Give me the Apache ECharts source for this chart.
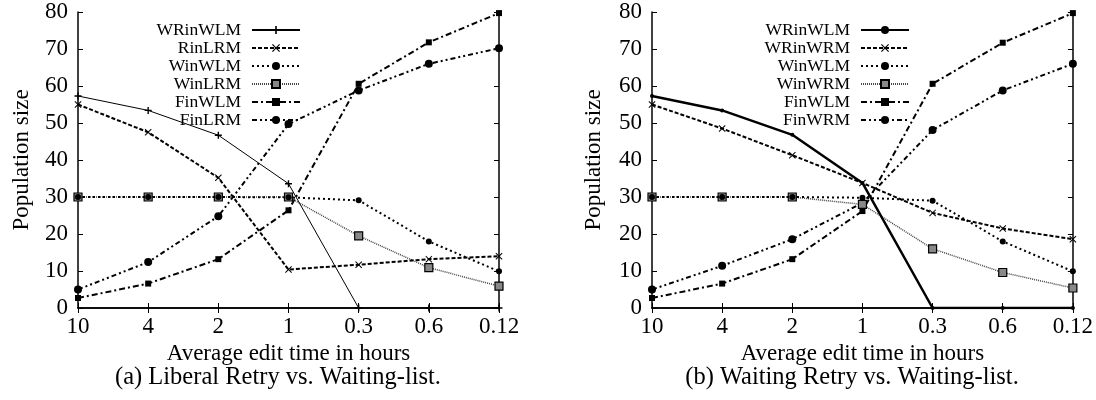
<!DOCTYPE html>
<html>
<head>
<meta charset="utf-8">
<script src="https://cdn.jsdelivr.net/npm/echarts@6/dist/echarts.min.js"></script>
<style>
	html, body { margin: 0; padding: 0; background: #fff; }
	#chart { width: 1096px; height: 400px; }
</style>
</head>
<body>
<div id="chart"></div>
<script>
// x categories (average edit time in hours)
const hours = ['10', '4', '2', '1', '0.3', '0.6', '0.12']

// (a) Liberal Retry vs. Waiting-list
const aNames = ['WRinWLM', 'RinLRM', 'WinWLM', 'WinLRM', 'FinWLM', 'FinLRM']
const aWRinWLM = [57.3, 53.4, 46.7, 33.6, 0, 0, 0]
const aRinLRM = [55, 47.5, 35.2, 10.4, 11.7, 13.2, 14]
const aWinWLM = [30, 30, 30, 29.9, 29.1, 18, 9.9]
const aWinLRM = [30, 30, 30, 30, 19.5, 10.9, 5.9]
const aFinWLM = [2.7, 6.6, 13.2, 26.4, 60.6, 71.8, 79.7]
const aFinLRM = [5, 12.4, 24.8, 49.7, 58.8, 66, 70.2]

// (b) Waiting Retry vs. Waiting-list
const bNames = ['WRinWLM', 'WRinWRM', 'WinWLM', 'WinWRM', 'FinWLM', 'FinWRM']
const bWRinWLM = [57.3, 53.4, 46.8, 33.8, 0, 0, 0]
const bWRinWRM = [55, 48.5, 41.3, 33.8, 25.7, 21.5, 18.6]
const bWinWLM = [30, 30, 30, 29.8, 29, 18, 9.9]
const bWinWRM = [30, 30, 30, 28, 16, 9.6, 5.4]
const bFinWLM = [2.7, 6.6, 13.2, 26.2, 60.6, 71.7, 79.7]
const bFinWRM = [5, 11.4, 18.6, 28.4, 48.1, 58.8, 66]

const yMin = 0
const yMax = 80
const yStep = 10

const FONT = 'Liberation Serif'
const PLUS = 'path://M4,0h2v4h4v2h-4v4h-2v-4h-4v-2h4z'
const CROSS = 'path://M1,0L5,4L9,0L10,1L6,5L10,9L9,10L5,6L1,10L0,9L4,5L0,1Z'

// gnuplot-ish line styles, one per slot
const styles = {
	a: [
		{ width: 1, type: 'solid', symbol: PLUS, size: 7 },
		{ width: 2, type: [4, 2], symbol: CROSS, size: 7 },
		{ width: 2, type: [2, 3], symbol: 'circle', size: 6 },
		{ width: 1.5, type: [1, 1], color: '#444', symbol: 'rect', size: 8, fill: '#888' },
		{ width: 2, type: [6, 3, 2, 3], symbol: 'rect', size: 6 },
		{ width: 2, type: [5, 3, 2, 3, 2, 3], symbol: 'circle', size: 8 }
	],
	b: [
		{ width: 2.5, type: 'solid', symbol: 'circle', size: 4 },
		{ width: 2, type: [4, 2], symbol: CROSS, size: 7 },
		{ width: 2, type: [2, 3], symbol: 'circle', size: 6 },
		{ width: 1.5, type: [1, 1], color: '#444', symbol: 'rect', size: 8, fill: '#888' },
		{ width: 2, type: [6, 3, 2, 3], symbol: 'rect', size: 6 },
		{ width: 2, type: [5, 3, 2, 3, 2, 3], symbol: 'circle', size: 8 }
	]
}

const makeSeries = function(key, idx, names, datas) {
	return names.map(function(name, i) {
		let s = styles[key][i]
		return {
			name: key + ':' + name,
			type: 'line',
			xAxisIndex: idx * 2,
			yAxisIndex: idx * 2,
			data: datas[i],
			symbol: s.symbol,
			symbolSize: s.size,
			showAllSymbol: true,
			lineStyle: { color: s.color || '#000', width: s.width, type: s.type },
			itemStyle: { color: s.fill || '#000', borderColor: '#000', borderWidth: s.fill ? 1.2 : 0 },
			z: 10 - i
		}
	})
}

const axisText = { color: '#000', fontFamily: FONT, fontSize: 23 }

const makeAxes = function(idx) {
	let line = { show: true, lineStyle: { color: '#000', width: 1.5 } }
	let tick = { show: true, inside: true, length: 5, lineStyle: { color: '#000', width: 1 } }
	let x = [
		{
			gridIndex: idx, type: 'category', boundaryGap: false, data: hours,
			axisLine: line, axisTick: tick,
			axisLabel: Object.assign({ margin: 7 }, axisText),
			splitLine: { show: false },
			name: 'Average edit time in hours', nameLocation: 'middle', nameGap: 32,
			nameTextStyle: axisText
		},
		{
			gridIndex: idx, type: 'category', boundaryGap: false, data: hours, position: 'top',
			axisLine: line, axisTick: tick, axisLabel: { show: false }, splitLine: { show: false }
		}
	]
	let y = [
		{
			gridIndex: idx, type: 'value', min: yMin, max: yMax, interval: yStep,
			axisLine: line, axisTick: tick,
			axisLabel: Object.assign({ margin: 10 }, axisText),
			splitLine: { show: false },
			name: 'Population size', nameLocation: 'middle', nameGap: idx ? 47 : 45,
			nameTextStyle: axisText
		},
		{
			gridIndex: idx, type: 'value', min: yMin, max: yMax, interval: yStep, position: 'right',
			axisLine: line, axisTick: tick, axisLabel: { show: false }, splitLine: { show: false }
		}
	]
	return { x: x, y: y }
}

const makeLegend = function(key, names, right) {
	return {
		orient: 'vertical',
		align: 'right',
		right: right,
		top: 21,
		padding: 0,
		itemGap: 0,
		itemWidth: 48,
		itemHeight: 10,
		selectedMode: false,
		data: names.map(function(n) { return key + ':' + n }),
		formatter: function(name) { return name.split(':')[1] },
		textStyle: { color: '#000', fontFamily: FONT, fontSize: 17.5, lineHeight: 17.6, padding: [0, 6, 0, 0] }
	}
}

const axA = makeAxes(0)
const axB = makeAxes(1)

const captionFont = '24.5px "' + FONT + '"'

const option = {
	animation: false,
	backgroundColor: '#fff',
	grid: [
		{ left: 78, top: 12, width: 421, height: 296 },
		{ left: 652, top: 12, width: 421, height: 296 }
	],
	xAxis: axA.x.concat(axB.x),
	yAxis: axA.y.concat(axB.y),
	legend: [makeLegend('a', aNames, 795), makeLegend('b', bNames, 186)],
	series: makeSeries('a', 0, aNames, [aWRinWLM, aRinLRM, aWinWLM, aWinLRM, aFinWLM, aFinLRM])
		.concat(makeSeries('b', 1, bNames, [bWRinWLM, bWRinWRM, bWinWLM, bWinWRM, bFinWLM, bFinWRM])),
	graphic: [
		{ type: 'text', x: 278, y: 365, style: { text: '(a) Liberal Retry vs. Waiting-list.', fill: '#000', font: captionFont, textAlign: 'center' } },
		{ type: 'text', x: 852, y: 365, style: { text: '(b) Waiting Retry vs. Waiting-list.', fill: '#000', font: captionFont, textAlign: 'center' } }
	]
}

let myChart = echarts.init(document.getElementById('chart'), null, { renderer: 'canvas' })
myChart.setOption(option)
</script>
</body>
</html>
